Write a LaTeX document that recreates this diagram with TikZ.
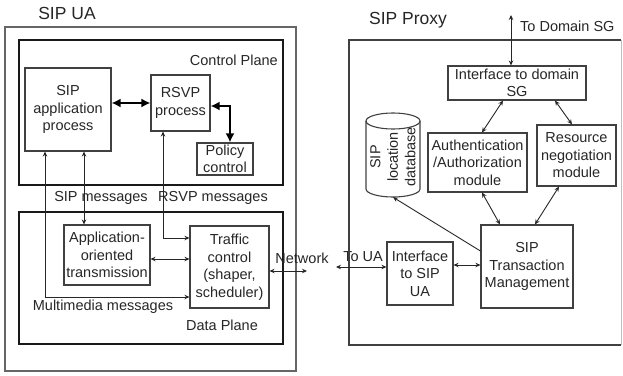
\documentclass[tikz,border=0pt]{standalone}
\usepackage{fontspec}
\setmainfont{Liberation Sans}
\usetikzlibrary{arrows.meta,calc}

\begin{document}
\begin{tikzpicture}[x=1pt,y=-1pt,
  txt/.style={font=\fontsize{14.5}{17.5}\selectfont, text=black!85, inner sep=0pt},
  title/.style={font=\fontsize{17.5}{20}\selectfont, text=black!85, inner sep=0pt},
  box/.style={draw=black!75, line width=1.1pt, txt, align=center, inner sep=1pt},
  outline/.style={draw=black!75, line width=1.1pt},
  plane/.style={draw=black!90, line width=1.8pt},
  frame/.style={draw=black!60, line width=1.2pt},
  link/.style={draw=black!85, line width=0.9pt,
    {Stealth[length=5pt,width=4.5pt]}-{Stealth[length=5pt,width=4.5pt]}},
  linkto/.style={draw=black!85, line width=0.9pt, -{Stealth[length=5pt,width=4.5pt]}},
  heavy/.style={draw=black, line width=2.4pt,
    {Latex[length=9pt,width=9pt]}-{Latex[length=9pt,width=9pt]}},
]
\useasboundingbox (0,0) rectangle (623,375);

% ---------- SIP UA ----------
\draw[frame] (5,27) rectangle (296,371);
\draw[plane] (19,40) rectangle (283,185);
\draw[plane] (19,212) rectangle (283,344);

\node[title] (uatitle) at (67,13) {SIP UA};
\node[txt, anchor=east] (cplabel) at (278,60) {Control Plane};
\node[txt] (dplabel) at (222,325) {Data Plane};

\node[box, minimum width=86pt, minimum height=83pt] (sipapp) at (68,109.5) {SIP\\application\\process};
\node[box, minimum width=59pt, minimum height=56pt] (rsvp) at (180.5,103) {RSVP\\process};
\node[box, minimum width=56pt, minimum height=32pt] (policy) at (225,159) {Policy\\control};
\node[box, minimum width=86pt, minimum height=60pt] (aot) at (107,255) {Application-\\oriented\\transmission};
\node[box, minimum width=79pt, minimum height=82pt] (traffic) at (229.5,267) {Traffic\\control\\(shaper,\\scheduler)};

\node[txt] (sipmsg) at (101,198) {SIP messages};
\node[txt] (rsvpmsg) at (213,198) {RSVP messages};
\node[txt] (mmmsg) at (103,307) {Multimedia messages};

% control plane links
\draw[heavy] (rsvp.west -| sipapp.east) -- (rsvp.west);
\draw[heavy] ([yshift=-3pt]rsvp.east) -| ([xshift=5pt]policy.north);

% messages between the planes
\coordinate (mmtop) at ([xshift=-23pt]sipapp.south);
\draw[link] ([yshift=-30pt]traffic.west) -| (mmtop);
\coordinate (siptop) at ([xshift=16pt]sipapp.south);
\draw[link] (siptop) -- (siptop |- aot.north);
\coordinate (rsvptop) at ([xshift=-17.5pt]rsvp.south);
\draw[link] (rsvptop) |- ([yshift=29pt]traffic.west);
\draw[link] ([yshift=-4pt]aot.east) -- ([yshift=-4pt]aot.east -| traffic.west);

% ---------- network ----------
\node[txt] (netlabel) at (302,258) {Network};
\node[txt] (toua) at (363,257) {To UA};
\coordinate (netend) at (307,271);
\draw[link] ([yshift=-4pt]traffic.east) -- (netend);

% ---------- SIP Proxy ----------
\draw[outline] (621,40) -- (349,40) -- (349,345) -- (621,345);
\draw[draw=black!25, line width=1pt] (621,40) -- (621,345);

\node[title] (proxytitle) at (408,20) {SIP Proxy};
\node[txt, anchor=west] (sglabel) at (520,26) {To Domain SG};

\node[box, minimum width=138pt, minimum height=34pt] (ifsg) at (517,83) {Interface to domain\\SG};
\node[box, minimum width=99pt, minimum height=59pt] (auth) at (477.5,162.5) {Authentication\\/Authorization\\module};
\node[box, minimum width=79pt, minimum height=61pt] (resneg) at (576.5,155.5) {Resource\\negotiation\\module};
\node[box, minimum width=66pt, minimum height=63pt] (ifua) at (420,273.5) {Interface\\to SIP\\UA};
\node[box, minimum width=92pt, minimum height=83pt] (stm) at (527,266.5) {SIP\\Transaction\\Management};

% location database: a drum standing upright, its label turned on its side
\draw[outline] (366,121) -- (366,189)
  arc[start angle=180, end angle=0, x radius=27, y radius=8] -- (420,121);
\draw[outline] (393,121) ellipse[x radius=27, y radius=8];
\node[txt, rotate=90, align=center, minimum width=80pt, minimum height=54pt]
  (db) at (393,157) {SIP\\location\\database};

\coordinate (uaend) at (336,267);
\draw[link] (uaend) -- (uaend -| ifua.west);
\draw[link] ([yshift=8.5pt]ifua.east) -- ([yshift=8.5pt]ifua.east -| stm.west);
\draw[linkto] ([yshift=15.5pt]stm.west) -- (db.west);

\coordinate (sgend) at (511,15);
\draw[link] (sgend) -- (sgend |- ifsg.north);
\draw[link] ([xshift=-14pt]ifsg.south) -- ([xshift=4.5pt]auth.north);
\draw[link] ([xshift=38pt]ifsg.south) -- ([xshift=-4.5pt]resneg.north);
\draw[link] ([xshift=4.5pt]auth.south) -- ([xshift=-27pt]stm.north);
\draw[link] ([xshift=-17.5pt]resneg.south) -- ([xshift=8pt]stm.north);
\end{tikzpicture}
\end{document}
